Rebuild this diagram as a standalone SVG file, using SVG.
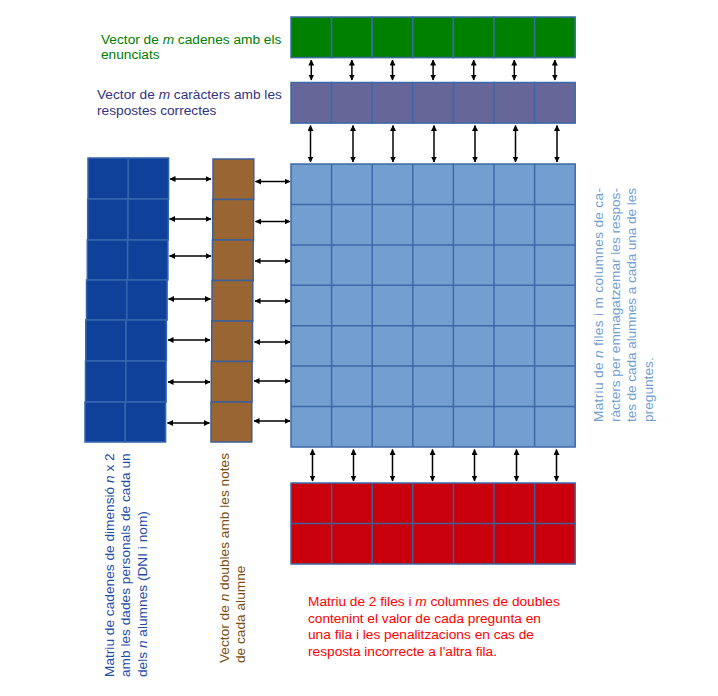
<svg xmlns="http://www.w3.org/2000/svg" width="718" height="696" viewBox="0 0 718 696">
<style>
text{font-family:"Liberation Sans",Arial,sans-serif;font-size:13.7px}
.cell{stroke:#3d69a8;stroke-width:1.5}
.g{fill:#008000}
.p{fill:#666699}
.lb{fill:#729fcf}
.r{fill:#c9000b}
.db{fill:#0f419a;stroke:#3466ad}
.br{fill:#996633;stroke:#3d5f99}
.ar{stroke:#000;stroke-width:1.5;fill:none;marker-start:url(#ah);marker-end:url(#ah)}
</style>
<defs>
<marker id="ah" viewBox="0 0 6 6" refX="5.5" refY="3" markerWidth="4" markerHeight="4" orient="auto-start-reverse" markerUnits="strokeWidth">
<path d="M0,0 L6,3 L0,6 z" fill="#000"/>
</marker>
</defs>

<g id="vec-enunciats">
<rect class="cell g" x="291" y="17" width="40.6" height="40.6"/>
<rect class="cell g" x="331.6" y="17" width="40.6" height="40.6"/>
<rect class="cell g" x="372.2" y="17" width="40.6" height="40.6"/>
<rect class="cell g" x="412.8" y="17" width="40.6" height="40.6"/>
<rect class="cell g" x="453.4" y="17" width="40.6" height="40.6"/>
<rect class="cell g" x="494" y="17" width="40.6" height="40.6"/>
<rect class="cell g" x="534.6" y="17" width="40.6" height="40.6"/>
<text x="101" y="44" fill="#008000">Vector de <tspan font-style="italic">m</tspan> cadenes amb els</text>
<text x="101" y="59" fill="#008000">enunciats</text>
</g>

<g id="vec-respostes">
<rect class="cell p" x="291" y="82.5" width="40.6" height="40.6"/>
<rect class="cell p" x="331.6" y="82.5" width="40.6" height="40.6"/>
<rect class="cell p" x="372.2" y="82.5" width="40.6" height="40.6"/>
<rect class="cell p" x="412.8" y="82.5" width="40.6" height="40.6"/>
<rect class="cell p" x="453.4" y="82.5" width="40.6" height="40.6"/>
<rect class="cell p" x="494" y="82.5" width="40.6" height="40.6"/>
<rect class="cell p" x="534.6" y="82.5" width="40.6" height="40.6"/>
<text x="97" y="99" fill="#333380">Vector de <tspan font-style="italic">m</tspan> caràcters amb les</text>
<text x="97" y="115" fill="#333380">respostes correctes</text>
</g>

<g id="mat-respostes">
<g>
<rect class="cell lb" x="291" y="164" width="284.2" height="283"/>
<path d="M331.6,164V447M372.2,164V447M412.8,164V447M453.4,164V447M494,164V447M534.6,164V447M291,204.4H575.2M291,244.9H575.2M291,285.3H575.2M291,325.7H575.2M291,366.1H575.2M291,406.6H575.2" stroke="#3d69a8" stroke-width="1.5" fill="none"/>
</g>
<text transform="translate(603,422) rotate(-90)" fill="#729fcf" font-size="11.5" textLength="234" lengthAdjust="spacing">Matriu de <tspan font-style="italic">n</tspan>  files i m columnes de ca-</text>
<text transform="translate(619.5,422) rotate(-90)" fill="#729fcf" font-size="11.5" textLength="234" lengthAdjust="spacing">ràcters per emmagatzemar les respos-</text>
<text transform="translate(636,422) rotate(-90)" fill="#729fcf" font-size="11.5" textLength="234" lengthAdjust="spacing">tes de cada alumnes a cada una de les</text>
<text transform="translate(652.5,422) rotate(-90)" fill="#729fcf" font-size="11.5">preguntes.</text>
</g>

<g id="mat-valors">
<rect class="cell r" x="291" y="483" width="284.2" height="81"/>
<path d="M331.6,483V564M372.2,483V564M412.8,483V564M453.4,483V564M494,483V564M534.6,483V564M291,523.5H575.2" stroke="#3d5f99" stroke-width="1.5" fill="none"/>
<text x="308" y="606" fill="#ff0000">Matriu de 2 files i <tspan font-style="italic">m</tspan> columnes de doubles</text>
<text x="308" y="622.7" fill="#ff0000">contenint el valor de cada pregunta en</text>
<text x="308" y="639.3" fill="#ff0000">una fila i les penalitzacions en cas de</text>
<text x="308" y="656" fill="#ff0000">resposta incorrecte a l'altra fila.</text>
</g>

<g id="mat-alumnes">
<rect class="db" stroke-width="1.5" x="88" y="158" width="40.3" height="41"/>
<rect class="db" stroke-width="1.5" x="128.3" y="158" width="40.3" height="41"/>
<rect class="db" stroke-width="1.5" x="87.7" y="199" width="40.3" height="41"/>
<rect class="db" stroke-width="1.5" x="128" y="199" width="40.3" height="41"/>
<rect class="db" stroke-width="1.5" x="87.3" y="240" width="40.3" height="40"/>
<rect class="db" stroke-width="1.5" x="127.6" y="240" width="40.3" height="40"/>
<rect class="db" stroke-width="1.5" x="86.5" y="280" width="40.3" height="40"/>
<rect class="db" stroke-width="1.5" x="126.8" y="280" width="40.3" height="40"/>
<rect class="db" stroke-width="1.5" x="85.8" y="320" width="40.3" height="41"/>
<rect class="db" stroke-width="1.5" x="126.1" y="320" width="40.3" height="41"/>
<rect class="db" stroke-width="1.5" x="85.5" y="361" width="40.3" height="41"/>
<rect class="db" stroke-width="1.5" x="125.8" y="361" width="40.3" height="41"/>
<rect class="db" stroke-width="1.5" x="85" y="402" width="40.3" height="40"/>
<rect class="db" stroke-width="1.5" x="125.3" y="402" width="40.3" height="40"/>
<text transform="translate(113.5,677) rotate(-90)" fill="#1f4da8">Matriu de cadenes de dimensió <tspan font-style="italic">n</tspan> x 2</text>
<text transform="translate(130,677) rotate(-90)" fill="#1f4da8">amb les dades personals de cada un</text>
<text transform="translate(146.5,677) rotate(-90)" fill="#1f4da8">dels <tspan font-style="italic">n</tspan> alumnes (DNI i nom)</text>
</g>

<g id="vec-notes">
<rect class="br" stroke-width="1.5" x="213" y="159" width="40.8" height="40.5"/>
<rect class="br" stroke-width="1.5" x="212.7" y="199.5" width="40.8" height="40.5"/>
<rect class="br" stroke-width="1.5" x="212.4" y="240" width="40.8" height="40.5"/>
<rect class="br" stroke-width="1.5" x="212" y="280.5" width="40.8" height="40.5"/>
<rect class="br" stroke-width="1.5" x="211.7" y="321" width="40.8" height="40.5"/>
<rect class="br" stroke-width="1.5" x="211.3" y="361.5" width="40.8" height="40.5"/>
<rect class="br" stroke-width="1.5" x="211" y="402" width="40.8" height="40"/>
<text transform="translate(228.5,663) rotate(-90)" fill="#7a4e10">Vector de <tspan font-style="italic">n</tspan> doubles amb les notes</text>
<text transform="translate(245,663) rotate(-90)" fill="#7a4e10">de cada alumne</text>
</g>

<g id="connectors">
<path class="ar" d="M311.3,60V80"/>
<path class="ar" d="M351.9,60V80"/>
<path class="ar" d="M392.5,60V80"/>
<path class="ar" d="M433.1,60V80"/>
<path class="ar" d="M473.7,60V80"/>
<path class="ar" d="M514.3,60V80"/>
<path class="ar" d="M554.9,60V80"/>

<path class="ar" d="M310.5,125.5V162"/>
<path class="ar" d="M353,125.5V162"/>
<path class="ar" d="M393,125.5V162"/>
<path class="ar" d="M434,125.5V162"/>
<path class="ar" d="M475,125.5V162"/>
<path class="ar" d="M515.5,125.5V162"/>
<path class="ar" d="M557,125.5V162"/>

<path class="ar" d="M312.5,449.5V481"/>
<path class="ar" d="M353.5,449.5V481"/>
<path class="ar" d="M392.5,449.5V481"/>
<path class="ar" d="M432.5,449.5V481"/>
<path class="ar" d="M474.5,449.5V481"/>
<path class="ar" d="M516.5,449.5V481"/>
<path class="ar" d="M556.5,449.5V481"/>

<path class="ar" d="M170,179H211"/>
<path class="ar" d="M169.5,219H211"/>
<path class="ar" d="M169.5,256H211"/>
<path class="ar" d="M168.5,299H210.5"/>
<path class="ar" d="M168,340H210"/>
<path class="ar" d="M168,382H210"/>
<path class="ar" d="M167.5,423H209.5"/>

<path class="ar" d="M255.5,181.5H290"/>
<path class="ar" d="M255.5,221.5H290"/>
<path class="ar" d="M255,261H290"/>
<path class="ar" d="M255,301H290"/>
<path class="ar" d="M254.5,342H290"/>
<path class="ar" d="M254,381H290"/>
<path class="ar" d="M254,421H290"/>
</g>
</svg>
